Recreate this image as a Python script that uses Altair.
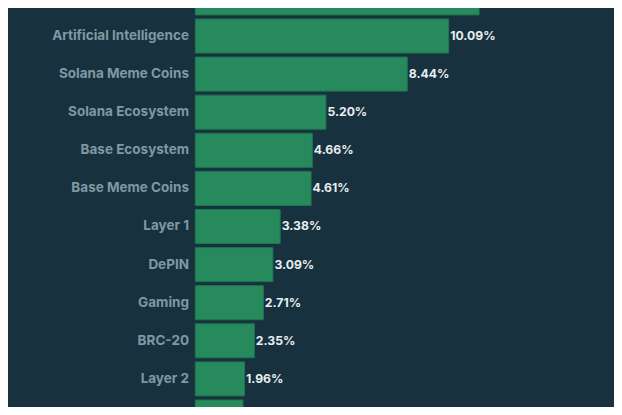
import altair as alt
import pandas as pd

categories = [
    "Real World Assets (RWA)", "Artificial Intelligence", "Solana Meme Coins",
    "Solana Ecosystem", "Base Ecosystem", "Base Meme Coins", "Layer 1", "DePIN",
    "Gaming", "BRC-20", "Layer 2", "Ethereum Ecosystem",
]
values = [11.30, 10.09, 8.44, 5.20, 4.66, 4.61, 3.38, 3.09, 2.71, 2.35, 1.96, 1.90]

df = pd.DataFrame({"cat": categories, "value": values})
df["label"] = df["value"].map(lambda v: f"{v:.2f}%")

BG = "#17323e"
x_scale = alt.Scale(domain=[0, 17], range=[187.3, 614.2], nice=False, zero=True)
y_scale = alt.Scale(domain=categories, range=[-27.1, 426.0], paddingInner=0.107, paddingOuter=0)

base = alt.Chart(df)

bars = base.mark_bar(color="#268a5c", stroke="#1f7650", strokeWidth=1, cornerRadius=0).encode(
    x=alt.X("value:Q", scale=x_scale, axis=None),
    x2=alt.datum(0),
    y=alt.Y("cat:N", scale=y_scale, axis=None, sort=categories),
)

vals = base.mark_text(align="left", baseline="middle", dx=1.5, font="Inter", fontSize=12.2,
                      fontWeight=700, color="#e9eef0").encode(
    x=alt.X("value:Q", scale=x_scale),
    y=alt.Y("cat:N", scale=y_scale, sort=categories),
    text="label:N",
)

cats = base.mark_text(align="right", baseline="middle", font="Inter", fontSize=13.5,
                      fontWeight=700, color="#7f99a4").encode(
    x=alt.value(181),
    y=alt.Y("cat:N", scale=y_scale, sort=categories),
    text="cat:N",
)

chart = (bars + vals + cats).properties(
    width=606, height=399, background=BG, padding=0,
    autosize=alt.AutoSizeParams(type="none", contains="padding"),
).configure_view(stroke=None, fill=BG)

chart.save("out.html", embed_options={"renderer": "svg", "actions": False})
